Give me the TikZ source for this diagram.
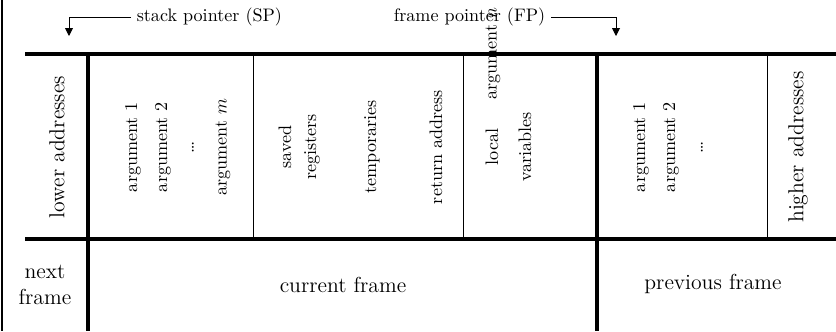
\documentclass[tikz,border=0pt]{standalone}
\usetikzlibrary{arrows.meta}
\begin{document}
\begin{tikzpicture}[x=0.5525pt,y=-0.5525pt,
  heavy/.style={line width=1.8pt},
  light/.style={line width=0.5pt},
  border/.style={line width=0.8pt},
  ptr/.style={line width=0.5pt,-{Triangle[width=4.4pt,length=4.4pt]}},
  vtext/.style={rotate=90,inner sep=0pt},
  big/.style={font=\large},
  lbl/.style={inner sep=3pt}]
\useasboundingbox (0,0) rectangle (836,331);
% frame lines
\draw[border] (2,0) -- (2,331);
\draw[heavy] (25,54) -- (836,54);
\draw[heavy] (25,239) -- (836,239);
\draw[heavy] (88,54) -- (88,331);
\draw[heavy] (597,54) -- (597,331);
\draw[light] (253,54) -- (253,239);
\draw[light] (463,54) -- (463,239);
\draw[light] (767,54) -- (767,239);
% pointers
\node[lbl,anchor=west] (sp) at (131,17) {stack pointer (SP)};
\node[lbl,anchor=east] (fp) at (551,17) {frame pointer (FP)};
\coordinate (sptip) at (69,36);
\coordinate (fptip) at (616,36);
\draw[ptr] (sp.west) -| (sptip);
\draw[ptr] (fp.east) -| (fptip);
% cells
\node[big,vtext] (lower) at (57,147) {lower addresses};
\node[vtext] (a1) at (133,147) {argument 1};
\node[vtext] (a2) at (163,147) {argument 2};
\node[vtext] (ad) at (193,147) {\dots};
\node[vtext] (am) at (223,147) {argument $m$};
\node[vtext] (saved) at (285,147) {saved};
\node[vtext] (regs) at (312,147) {registers};
\node[vtext] (temps) at (372,147) {temporaries};
\node[vtext] (ret) at (436,147) {return address};
\node[vtext] (argn) at (493,54) {argument $n$};
\node[vtext] (local) at (492,147) {local};
\node[vtext] (vars) at (525,147) {variables};
\node[vtext] (b1) at (641,147) {argument 1};
\node[vtext] (b2) at (671,147) {argument 2};
\node[vtext] (bd) at (702,147) {\dots};
\node[big,vtext] (higher) at (798,147) {higher addresses};
% frames
\node[big,align=center] (next) at (45,285) {next\\frame};
\node[big] (cur) at (343,285) {current frame};
\node[big] (prev) at (713,284) {previous frame};
\end{tikzpicture}
\end{document}
